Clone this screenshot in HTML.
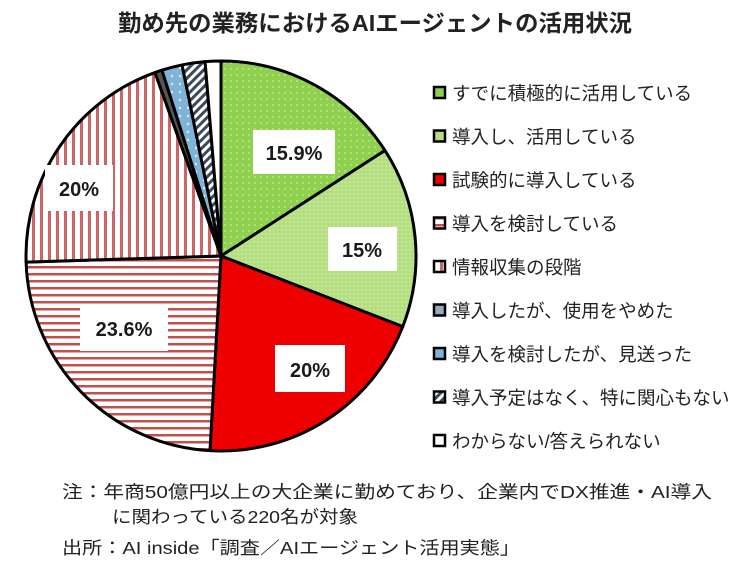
<!DOCTYPE html>
<html><head><meta charset="utf-8"><style>
body{margin:0;background:#fff;width:750px;height:570px;overflow:hidden;font-family:"Liberation Sans","Noto Sans CJK JP",sans-serif;}
</style></head><body>
<svg width="750" height="570" xmlns="http://www.w3.org/2000/svg" style="position:absolute;left:0;top:0">
<defs>
<pattern id="g1" width="6" height="6" patternUnits="userSpaceOnUse"><rect width="6" height="6" fill="#8fd14f"/><circle cx="3" cy="3" r="0.9" fill="#c9ec9c"/></pattern>
<pattern id="g2" width="4" height="4" patternUnits="userSpaceOnUse"><rect width="4" height="4" fill="#b3df80"/><circle cx="2" cy="2" r="0.8" fill="#d8f0b8"/></pattern>
<pattern id="hs" width="8" height="7" patternUnits="userSpaceOnUse"><rect width="8" height="7" fill="#fff"/><rect y="0" width="8" height="2.5" fill="#c0504d"/></pattern>
<pattern id="vs" width="8" height="8" patternUnits="userSpaceOnUse"><rect width="8" height="8" fill="#fff"/><rect x="0" width="3" height="8" fill="#c66"/></pattern>
<pattern id="bl" width="8" height="8" patternUnits="userSpaceOnUse"><rect width="8" height="8" fill="#7fb4d6"/><circle cx="4" cy="4" r="1.2" fill="#d6ecf7"/></pattern>
<pattern id="dg" width="6" height="6" patternUnits="userSpaceOnUse" patternTransform="rotate(45)"><rect width="6" height="6" fill="#fff"/><rect width="3" height="6" fill="#3a4a5a"/></pattern>
</defs>
<text x="375" y="31" text-anchor="middle" font-size="23" font-weight="bold" fill="#222" textLength="514" lengthAdjust="spacingAndGlyphs">勤め先の業務におけるAIエージェントの活用状況</text>
<g id="pie" stroke="#000" stroke-width="3" stroke-linejoin="round"></g>
<g font-size="20" font-weight="bold" fill="#1a1a1a" text-anchor="middle">
<rect x="253" y="130" width="82" height="44" fill="#fff"/><text x="294" y="160">15.9%</text>
<rect x="328" y="227" width="69" height="44" fill="#fff"/><text x="362" y="257">15%</text>
<rect x="275" y="345" width="70" height="47" fill="#fff"/><text x="310" y="377">20%</text>
<rect x="80" y="305" width="88" height="46" fill="#fff"/><text x="124" y="336">23.6%</text>
<rect x="45" y="165" width="68" height="46" fill="#fff"/><text x="79" y="196">20%</text>
</g>
<g id="leg" font-size="18.5" fill="#222"></g>
<g font-size="17.5" fill="#222">
<text x="62" y="498" textLength="650" lengthAdjust="spacingAndGlyphs">注：年商50億円以上の大企業に勤めており、企業内でDX推進・AI導入</text>
<text x="112" y="523" textLength="246" lengthAdjust="spacingAndGlyphs">に関わっている220名が対象</text>
<text x="62" y="554" textLength="458" lengthAdjust="spacingAndGlyphs">出所：AI inside「調査／AIエージェント活用実態」</text>
</g>
</svg>
<script>
const cx=221,cy=256,r=195;
const d=[[15.9,'url(#g1)'],[15,'url(#g2)'],[20,'#ee0000'],[23.6,'url(#hs)'],[20,'url(#vs)'],[0.6,'#555'],[1.7,'url(#bl)'],[1.9,'url(#dg)'],[1.3,'#fff']];
let tot=d.reduce((a,b)=>a+b[0],0),a0=0,s='';
const pt=a=>[cx+r*Math.sin(a*2*Math.PI),cy-r*Math.cos(a*2*Math.PI)];
for(const [v,f] of d){const a1=a0+v/tot;const p0=pt(a0),p1=pt(a1);
s+=`<path d="M${cx},${cy}L${p0[0]},${p0[1]}A${r},${r} 0 ${a1-a0>0.5?1:0} 1 ${p1[0]},${p1[1]}Z" fill="${f}"/>`;a0=a1;}
document.getElementById('pie').innerHTML=s;
const L=['すでに積極的に活用している','導入し、活用している','試験的に導入している','導入を検討している','情報収集の段階','導入したが、使用をやめた','導入を検討したが、見送った','導入予定はなく、特に関心もない','わからない/答えられない'];
const F=['#8fd14f','#b3df80','#ee0000','url(#hs)','url(#vs)','#9ab','#7fb4d6','url(#dg)','#fff'];
let g='';L.forEach((t,i)=>{const y=93+i*43.5;g+=`<rect x="434" y="${y-6}" width="11" height="11" fill="${F[i]}" stroke="#000" stroke-width="2.5"/><text x="452" y="${y+7}">${t}</text>`;});
document.getElementById('leg').innerHTML=g;
</script>
</body></html>
